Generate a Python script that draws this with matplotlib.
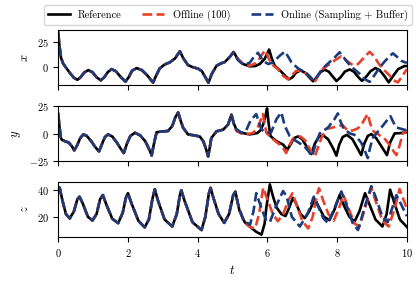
import matplotlib
matplotlib.use('Agg')
import matplotlib.pyplot as plt

# values (t, value) — the three runs agree until t ~ 5
t_x_common = [0.0, 0.03, 0.08, 0.14, 0.19, 0.33, 0.45, 0.55, 0.64, 0.74, 0.86, 0.98, 1.1, 1.22, 1.32, 1.42,
              1.53, 1.65, 1.8, 1.93, 2.02, 2.12, 2.25, 2.4, 2.55, 2.72, 2.8, 2.91, 3.05, 3.2, 3.35, 3.49,
              3.58, 3.72, 3.85, 4.01, 4.12, 4.22, 4.31, 4.4, 4.54, 4.66, 4.78, 4.92, 5.03]
x_common = [34, 22, 9, 3.5, 1, -5.6, -10.5, -12.5, -10, -5.5, -3, -5, -10, -13, -10, -5,
            -2, -4, -10, -14.2, -10, -3.5, -1, -3, -8, -15.2, -9, -1.3, 2.5, 4.6, 8.5, 15.5,
            9, 2, 0, -1.5, -4, -10, -15.3, -7, 1.3, 3.5, 5, 10, 14.7]

t_x_ref = [5.15, 5.3, 5.49, 5.65, 5.78, 5.92, 6.05, 6.12, 6.21, 6.4, 6.52, 6.62, 6.72, 6.82, 6.95, 7.08,
           7.2, 7.31, 7.42, 7.52, 7.64, 7.76, 7.88, 7.98, 8.1, 8.22, 8.36, 8.48, 8.6, 8.71, 8.82, 8.96,
           9.1, 9.22, 9.36, 9.48, 9.6, 9.75, 9.93, 10.0]
x_ref = [8, 3, 0.7, 1, 3, 8, 17.2, 9, 1.3, -4.6, -9, -12, -10, -5.5, -3.3, -5.5,
         -10, -14, -10, -5, -2.5, -4.5, -9.5, -13.7, -10, -4.5, -2.3, -4.5, -9.5, -13.5, -10, -4,
         -1, -3, -9, -15, -9, -2, 1, 1]

t_x_off = [5.15, 5.3, 5.49, 5.62, 5.73, 5.83, 5.93, 6.02, 6.11, 6.3, 6.45, 6.59, 6.7, 6.83, 6.97, 7.1,
           7.21, 7.36, 7.46, 7.6, 7.79, 7.95, 8.12, 8.28, 8.45, 8.6, 8.75, 8.93, 9.05, 9.2, 9.35, 9.5,
           9.62, 9.74, 9.85, 10.0]
x_off = [8, 3, 1.3, 3, 6, 11.5, 16.5, 10, 3, -2, -8.6, -12, -8, -3.6, -3.6, -6,
         -9, -14.5, -8, -1.3, 3, 7, 10.5, 6, 2, 3, 8.5, 15, 11, 3, -3, -8,
         -13, -15, -10, -2]

t_x_on = [5.15, 5.25, 5.38, 5.5, 5.6, 5.73, 5.87, 6.02, 6.16, 6.35, 6.5, 6.6, 6.69, 6.88, 7.12, 7.22,
          7.33, 7.45, 7.58, 7.74, 7.93, 8.07, 8.2, 8.36, 8.52, 8.7, 8.8, 8.93, 9.05, 9.2, 9.35, 9.5,
          9.6, 9.72, 9.85, 10.0]
x_on = [7, 4, 2.5, 4.5, 9.5, 14, 6.3, 3, 4.5, 11, 15.2, 10, 4.6, -1.3, -6, -9.5,
        -13.5, -8, -1.5, 3.5, 9.5, 14.5, 9, 2, -3, -8, -12, -14.5, -9, -1.5, 5, 10.5,
        13.5, 10, 6, 4]

t_y_common = [0.0, 0.03, 0.07, 0.1, 0.19, 0.3, 0.38, 0.46, 0.55, 0.63, 0.72, 0.82, 0.95, 1.07, 1.17, 1.26,
              1.34, 1.43, 1.55, 1.68, 1.8, 1.88, 1.97, 2.07, 2.2, 2.35, 2.5, 2.62, 2.68, 2.74, 2.82, 2.95,
              3.15, 3.27, 3.36, 3.44, 3.51, 3.58, 3.72, 3.9, 4.06, 4.16, 4.24, 4.3, 4.35, 4.39, 4.54, 4.73,
              4.87, 4.97]
y_common = [18, 8, -3, -5.5, -6.8, -8, -11, -15.2, -10, -4, -0.6, -2, -7, -12.5, -16.1, -9,
            -3, -0.6, -2.5, -8, -14, -17.6, -9, -2, 0.9, -1.5, -7, -15, -19.8, -10, 1.3, 2,
            2.5, 7, 15, 19.4, 12, 5.6, -0.6, -1.5, -2.5, -6.8, -14, -20.7, -12, -4, 2.2, 3.7,
            8.3, 17.4]

t_y_ref = [5.04, 5.11, 5.25, 5.49, 5.7, 5.8, 5.88, 5.95, 5.99, 6.04, 6.09, 6.26, 6.45, 6.57, 6.66, 6.76,
           6.88, 7.0, 7.13, 7.26, 7.36, 7.47, 7.6, 7.74, 7.88, 7.98, 8.06, 8.16, 8.28, 8.44, 8.58, 8.69,
           8.78, 8.88, 8.98, 9.12, 9.28, 9.43, 9.52, 9.65, 9.8, 10.0]
y_ref = [9, 4, 0.9, -0.6, 0.5, 3, 8.6, 17, 23.1, 8, -2.2, -6.8, -9.9, -14.5, -10, -4,
         -2.5, -5, -12, -18.5, -9, -3, -1.5, -5, -13, -20, -10, -3, -1, -5, -13, -19.5,
         -9, -2, -0.3, -4, -12, -19.5, -8, 0.3, 0.5, 1.5]

t_y_off = [5.04, 5.11, 5.3, 5.48, 5.59, 5.7, 5.78, 5.87, 5.93, 5.97, 6.11, 6.35, 6.45, 6.54, 6.62, 6.72,
           6.83, 6.95, 7.08, 7.2, 7.36, 7.46, 7.56, 7.69, 7.88, 8.05, 8.15, 8.3, 8.45, 8.6, 8.73, 8.82,
           8.88, 8.95, 9.05, 9.2, 9.35, 9.5, 9.62, 9.7, 9.78, 9.88, 10.0]
y_off = [9, 2.4, -0.6, 0, 0.9, 4, 10.2, 17.9, 8, 0.9, -3.7, -9.9, -13, -17.6, -11, -5,
         -3, -2.5, -6, -13, -20.7, -12, -3, 4.3, 5.7, 7, 8, 3, 3, 5, 10, 15,
         17.9, 9, 2, -1, -4, -10, -16, -19.5, -12, 0, 3]

t_y_on = [5.04, 5.11, 5.25, 5.37, 5.49, 5.6, 5.68, 5.76, 5.83, 5.97, 6.11, 6.26, 6.4, 6.5, 6.64, 6.83,
          7.06, 7.18, 7.28, 7.36, 7.5, 7.74, 7.93, 8.02, 8.1, 8.17, 8.36, 8.5, 8.69, 8.8, 8.88, 8.95,
          9.03, 9.27, 9.45, 9.53, 9.62, 9.7, 10.0]
y_on = [8, 4, 0.9, 1.5, 10.2, 15, 17.9, 10, 4, 0.9, 1.5, 13.3, 19.4, 7, -2.2, -6.8,
        -11.4, -16, -20.5, -12, 0.3, 5.7, 13.5, 18.5, 11, 5.7, 0.3, -1, -8, -16, -22.2, -12,
        -3.4, 5.7, 13, 16, 10, 5.7, 3]

t_z_common = [0.0, 0.04, 0.12, 0.22, 0.33, 0.45, 0.55, 0.61, 0.7, 0.85, 0.98, 1.1, 1.2, 1.28, 1.38, 1.55,
              1.72, 1.85, 1.94, 2.0, 2.1, 2.3, 2.48, 2.6, 2.7, 2.77, 2.86, 3.05, 3.27, 3.4, 3.49, 3.53,
              3.62, 3.85, 4.11, 4.22, 4.32, 4.37, 4.45, 4.6, 4.76, 4.9, 5.02, 5.08]
z_common = [40, 41.5, 32, 22, 18.8, 24, 33, 34.8, 30, 20, 17.2, 22, 33, 36, 29, 18.5,
            15.3, 23, 34, 37.4, 30, 17, 12.2, 18, 33, 40.3, 32, 18, 12.8, 22, 36, 39.5,
            32, 16, 10.2, 20, 37, 41.3, 34, 22, 15.5, 22, 36, 38.5]

t_z_ref = [5.2, 5.35, 5.49, 5.68, 5.83, 5.92, 5.97, 6.07, 6.16, 6.26, 6.4, 6.52, 6.63, 6.73, 6.82, 6.95,
           7.07, 7.2, 7.36, 7.48, 7.62, 7.78, 7.92, 8.07, 8.2, 8.35, 8.5, 8.64, 8.8, 8.93, 9.1, 9.3,
           9.42, 9.52, 9.62, 9.8, 10.0]
z_ref = [24.4, 16, 12.8, 8.9, 6.8, 15, 27, 43.9, 35, 27, 22, 20.5, 27, 34, 30, 22,
         19, 24, 33, 27, 20, 17.5, 25, 36, 28, 20, 16.5, 24, 37.4, 29, 18, 12.8,
         22, 40, 32, 18, 12.5]

t_z_off = [5.2, 5.35, 5.5, 5.65, 5.76, 5.88, 5.98, 6.16, 6.3, 6.45, 6.62, 6.72, 6.85, 7.0, 7.17, 7.3,
           7.42, 7.48, 7.6, 7.75, 7.9, 8.05, 8.18, 8.3, 8.5, 8.64, 8.82, 8.98, 9.1, 9.3, 9.48, 9.65,
           9.79, 9.9, 10.0]
z_off = [24.4, 16, 12.5, 11.4, 22, 41.5, 34, 21.9, 16.7, 22, 33, 37.4, 28, 17, 11.4, 20,
         36, 41, 32, 22, 17, 26, 36, 28, 15, 12.8, 28, 41.3, 32, 17, 12.8, 26,
         40.5, 33, 26]

t_z_on = [5.15, 5.3, 5.5, 5.6, 5.68, 5.78, 5.95, 6.07, 6.25, 6.45, 6.55, 6.7, 6.93, 7.15, 7.33, 7.45,
          7.6, 7.74, 7.95, 8.12, 8.25, 8.45, 8.6, 8.8, 8.98, 9.1, 9.3, 9.45, 9.6, 9.7, 9.82, 10.0]
z_on = [30, 18, 14, 24, 37.4, 30, 18, 16, 28, 39, 35, 20, 12.8, 22, 34.8, 28,
        19, 15.3, 28, 38.7, 30, 15, 10.2, 28, 42.6, 35, 20, 16, 28, 36, 30, 20.5]

labels = ['Reference', 'Offline (100)', 'Online (Sampling + Buffer)']
colors = ['black', '#e8412b', '#1a3c7c']
xticks = [0, 2, 4, 6, 8, 10]

plt.rcParams['font.family'] = 'serif'
plt.rcParams['font.serif'] = ['cmr10']
plt.rcParams['mathtext.fontset'] = 'cm'
plt.rcParams['axes.formatter.use_mathtext'] = True
plt.rcParams['font.size'] = 7.5

fig, axes = plt.subplots(3, 1, figsize=(4.16, 2.82), dpi=100, sharex=True)
fig.subplots_adjust(left=0.14, right=0.978, top=0.894, bottom=0.159, hspace=0.374)

panels = [
    ('$x$', [(t_x_common + t_x_ref, x_common + x_ref),
             (t_x_common + t_x_off, x_common + x_off),
             (t_x_common + t_x_on, x_common + x_on)], [0, 25]),
    ('$y$', [(t_y_common + t_y_ref, y_common + y_ref),
             (t_y_common + t_y_off, y_common + y_off),
             (t_y_common + t_y_on, y_common + y_on)], [-25, 0, 25]),
    ('$z$', [(t_z_common + t_z_ref, z_common + z_ref),
             (t_z_common + t_z_off, z_common + z_off),
             (t_z_common + t_z_on, z_common + z_on)], [20, 40]),
]

for ax, (name, series, yt) in zip(axes, panels):
    for i, (tt, vv) in enumerate(series):
        ls = '-' if i == 0 else '--'
        ax.plot(tt, vv, ls, color=colors[i], lw=1.9, label=labels[i])
    ax.set_ylabel(name, fontsize=9)
    ax.set_yticks(yt)
    ax.set_xlim(0, 10)
    ax.tick_params(direction='out', length=3.5, width=0.8)

axes[-1].set_xticks(xticks)
axes[-1].set_xlabel('$t$', fontsize=9)

handles, lbls = axes[0].get_legend_handles_labels()
fig.legend(handles, lbls, loc='upper center', bbox_to_anchor=(0.548, 1.0), ncol=3,
           handlelength=2.1, columnspacing=2.0, fontsize=7.5)

fig.savefig('out.png', dpi=100)
